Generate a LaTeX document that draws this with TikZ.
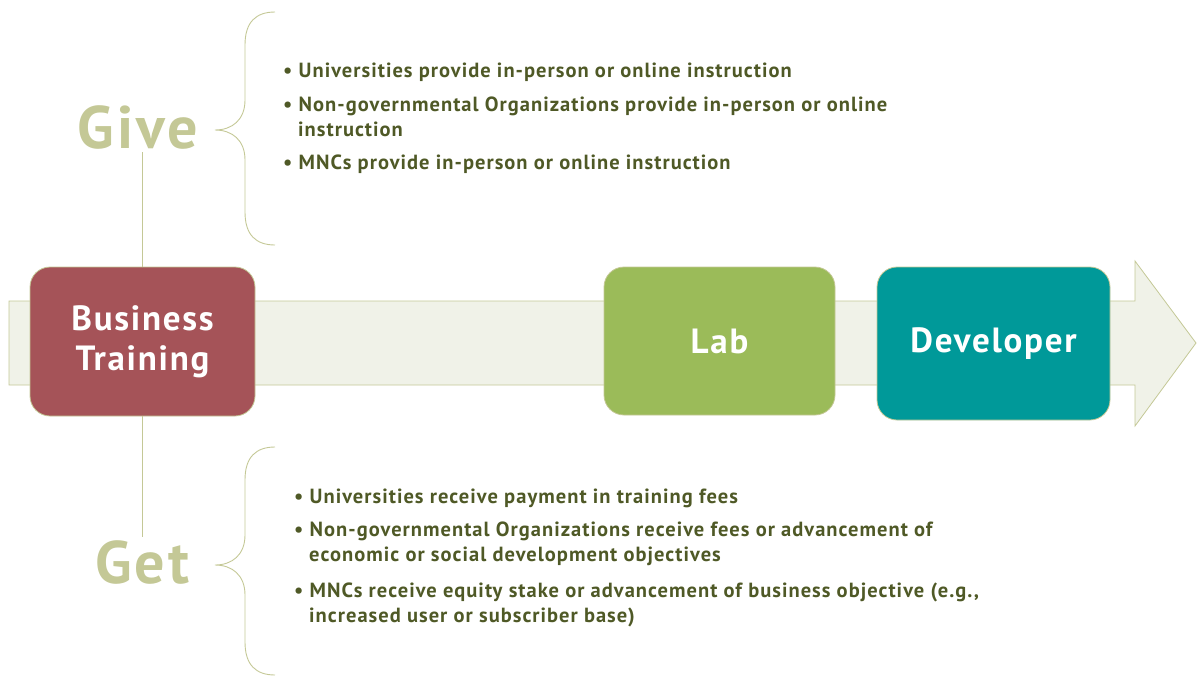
\documentclass[tikz,border=0pt]{standalone}
\usepackage{fontspec}
\setmainfont[LetterSpace=5]{PT Sans}
\usepackage{tikz}

\definecolor{olive}{RGB}{196,200,150}
\definecolor{band}{RGB}{240,242,232}
\definecolor{darkolive}{RGB}{79,89,38}
\definecolor{wine}{RGB}{165,83,88}
\definecolor{leaf}{RGB}{155,187,89}
\definecolor{teal}{RGB}{0,153,153}

\tikzset{
  stage/.style={rounded corners=20pt, draw=olive, line width=0.8pt, text=white,
    font=\fontsize{35}{40}\selectfont\bfseries, align=center, inner sep=0pt},
  bigword/.style={text=olive, font=\fontsize{60}{60}\selectfont\bfseries},
  items/.style={anchor=west, text=darkolive, align=left,
    font=\fontsize{20.5}{24.5}\selectfont\bfseries, inner sep=0pt},
  brace/.style={draw=olive, line width=0.9pt}
}

\begin{document}
\begin{tikzpicture}[x=1pt,y=-1pt]
\useasboundingbox (0,0) rectangle (1197,675);
% the long arrow behind the boxes
\draw[draw=olive, fill=band, line width=0.8pt]
  (9,301) -- (1135,301) -- (1135,261) -- (1196,343) -- (1135,426)
  -- (1135,385) -- (9,385) -- cycle;
% the three stages
\node[stage, fill=wine, minimum width=225pt, minimum height=149pt] (bt) at (142.5,341.5) {Business\\Training};
\node[stage, fill=leaf, minimum width=231pt, minimum height=148pt] (lab) at (719.5,341) {Lab};
\node[stage, fill=teal, minimum width=233pt, minimum height=153pt] (dev) at (993.5,343.5) {Developer};
% give and get
\node[bigword] (give) at (138,127) {Give};
\node[bigword] (get) at (142,562) {Get};
\draw[olive, line width=0.8pt] (give.south -| bt.north) -- (bt.north);
\draw[olive, line width=0.8pt] (bt.south) -- (get.north -| bt.south);
% braces
\draw[brace] (275,12) .. controls (256,12) and (245,22) .. (245,45) -- (245,100)
  .. controls (245,120) and (232,130) .. (215,130)
  .. controls (232,130) and (245,140) .. (245,160) -- (245,212)
  .. controls (245,235) and (256,245) .. (275,245);
\draw[brace] (275,447) .. controls (256,447) and (245,457) .. (245,480) -- (245,535)
  .. controls (245,555) and (232,565) .. (215,565)
  .. controls (232,565) and (245,575) .. (245,595) -- (245,642)
  .. controls (245,665) and (256,675) .. (275,675);
% what is given
\node[items] (give1) at (283,72) {\textbullet\ Universities provide in-person or online instruction};
\node[items] (give2) at (283,117) {\textbullet\ Non-governmental Organizations provide in-person or online\\\hspace*{15pt}instruction};
\node[items] (give3) at (283,164) {\textbullet\ MNCs provide in-person or online instruction};
% what is received
\node[items] (get1) at (294,498) {\textbullet\ Universities receive payment in training fees};
\node[items] (get2) at (294,544) {\textbullet\ Non-governmental Organizations receive fees or advancement of\\\hspace*{15pt}economic or social development objectives};
\node[items] (get3) at (294,605) {\textbullet\ MNCs receive equity stake or advancement of business objective (e.g.,\\\hspace*{15pt}increased user or subscriber base)};
\end{tikzpicture}
\end{document}
